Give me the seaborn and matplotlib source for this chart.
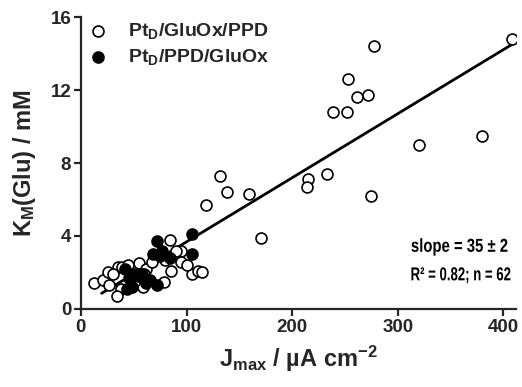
import numpy as np
import pandas as pd
import matplotlib
matplotlib.use("Agg")
import matplotlib.pyplot as plt
import seaborn as sns
from matplotlib.textpath import TextPath
from matplotlib.patches import PathPatch
from matplotlib.font_manager import FontProperties
from matplotlib.transforms import Affine2D

# Pt_D/GluOx/PPD (open circles)
jmax_open = [408, 278, 253, 261, 272, 239, 252, 380, 320, 132, 138, 159, 118,
             215, 214, 233, 275, 171,
             84, 95, 95, 85, 105, 111, 115, 79, 59, 37.5, 34, 12, 21, 26, 35,
             39, 55, 62, 60, 80, 27, 45, 30, 50, 67, 100, 90]
km_open = [14.8, 14.4, 12.6, 11.6, 11.7, 10.8, 10.8, 9.5, 9.0, 7.3, 6.4, 6.3, 5.7,
           7.1, 6.7, 7.4, 6.2, 3.9,
           3.8, 3.2, 2.6, 2.1, 1.9, 2.1, 2.0, 1.5, 1.2, 1.1, 0.7, 1.4, 1.6, 2.0, 2.3,
           2.3, 2.5, 2.2, 1.9, 2.7, 1.3, 2.4, 1.9, 1.5, 2.6, 2.4, 3.2]

# Pt_D/PPD/GluOx (filled circles)
jmax_filled = [72, 105, 105, 77, 68, 84, 42, 50, 46, 54, 48, 62, 72, 44, 58, 75, 65]
km_filled = [3.7, 4.1, 3.0, 3.2, 3.0, 2.8, 2.2, 1.9, 1.7, 1.8, 1.2, 1.4, 1.3, 1.1,
             1.9, 2.9, 1.6]

# linear fit shown in the figure
slope = 0.0351
intercept = 0.17
fit_range = [19.6, 408]

sns.set_style("ticks")
plt.rcParams["font.family"] = ["Liberation Sans", "DejaVu Sans"]
plt.rcParams["font.weight"] = "bold"
plt.rcParams["mathtext.fontset"] = "custom"
plt.rcParams["mathtext.rm"] = "Liberation Sans:bold"
plt.rcParams["mathtext.bf"] = "Liberation Sans:bold"
plt.rcParams["mathtext.it"] = "Liberation Sans:bold"

df = pd.concat([
    pd.DataFrame({"jmax": jmax_open, "km": km_open, "group": "open"}),
    pd.DataFrame({"jmax": jmax_filled, "km": km_filled, "group": "filled"}),
])

DPI = 100
fig = plt.figure(figsize=(5.22, 3.87), dpi=DPI)
ax = fig.add_axes([0.155, 0.2016, 0.8335, 0.7544])

sns.scatterplot(data=df[df.group == "open"], x="jmax", y="km", ax=ax,
                s=62, facecolor="white", edgecolor="black", linewidth=1.2,
                label=r"Pt$_\mathrm{D}$/GluOx/PPD", zorder=3)
sns.scatterplot(data=df[df.group == "filled"], x="jmax", y="km", ax=ax,
                s=62, facecolor="black", edgecolor="black", linewidth=1.2,
                label=r"Pt$_\mathrm{D}$/PPD/GluOx", zorder=4)

xs = np.array(fit_range)
ax.plot(xs, slope * xs + intercept, color="black", lw=2, zorder=2)

ax.set_xlim(0, 412)
ax.set_ylim(0, 16)
ax.set_xticks([0, 100, 200, 300, 400])
ax.set_yticks([0, 4, 8, 12, 16])
ax.tick_params(axis="both", labelsize=13.5, width=1.6, length=5,
               direction="out", pad=2)
for lab in ax.get_xticklabels() + ax.get_yticklabels():
    lab.set_fontweight("bold")
for side in ["left", "bottom"]:
    ax.spines[side].set_linewidth(1.6)
sns.despine(ax=ax)

ax.set_xlabel(r"J$_\mathrm{max}$ / µA cm$^\mathrm{-2}$", fontsize=17,
              fontweight="bold", labelpad=6)
ax.set_ylabel(r"K$_\mathrm{M}$(Glu) / mM", fontsize=17, fontweight="bold",
              labelpad=9)


def condensed_text(s, x, y, width_px, size=13.5):
    # the fit stats in the original use a condensed bold face
    prop = FontProperties(family="Liberation Sans", weight="bold", size=size)
    tp = TextPath((0, 0), s, prop=prop)
    ext = tp.get_extents()
    k = DPI / 72.0
    sx = width_px / (ext.width * k)
    px, py = ax.transData.transform((x, y))
    tr = (Affine2D().translate(-ext.x0, -(ext.y0 + ext.y1) / 2)
          .scale(sx * k, k).translate(px, py))
    ax.add_artist(PathPatch(tp, transform=tr, facecolor="black",
                            edgecolor="none", zorder=5))


condensed_text("slope = 35 ± 2", 313, 3.4, 96)
condensed_text("R² = 0.82; n = 62", 313, 1.85, 99)

leg = ax.legend(loc="upper left", frameon=False, fontsize=14,
                bbox_to_anchor=(0.0, 1.012), handlelength=1.0,
                handletextpad=1.0, borderaxespad=0.0, labelspacing=0.3)
for t in leg.get_texts():
    t.set_fontweight("bold")

fig.savefig("out.png", dpi=DPI)
